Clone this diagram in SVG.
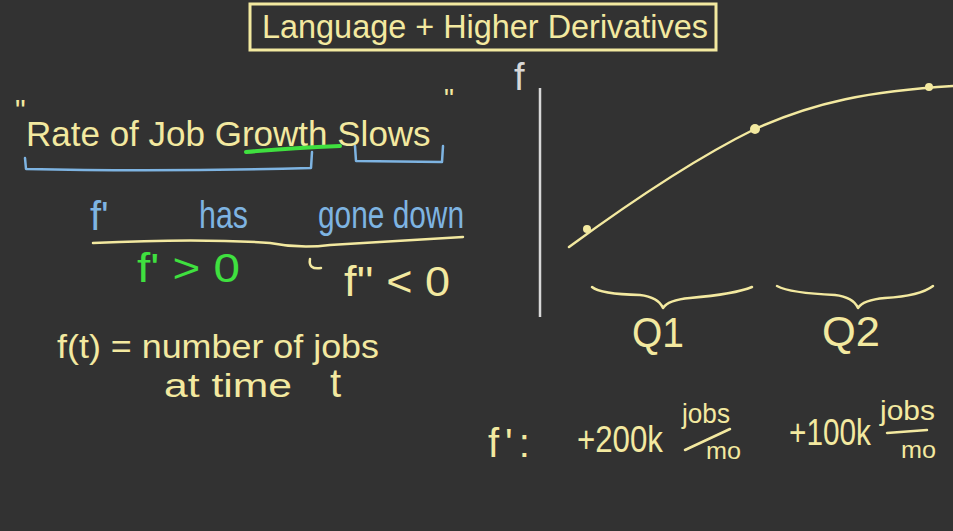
<svg xmlns="http://www.w3.org/2000/svg" width="953" height="531" viewBox="0 0 953 531">
<style>
.y{fill:#f3e9a0;font-family:"Liberation Sans",Arial,sans-serif}
.b{fill:#7eb4e2;font-family:"Liberation Sans",Arial,sans-serif}
.g{fill:#3fe03f;font-family:"Liberation Sans",Arial,sans-serif}
.w{fill:#d8d8d8;font-family:"Liberation Sans",Arial,sans-serif}
.ys{fill:none;stroke:#f3e9a0;stroke-width:2.5;stroke-linecap:round;stroke-linejoin:round}
.bs{fill:none;stroke:#7eb4e2;stroke-width:2.5;stroke-linecap:round;stroke-linejoin:round}
</style>
<rect width="953" height="531" fill="#323232"/>
<g id="title">
<rect x="250" y="4" width="466" height="46" fill="none" stroke="#f3e9a0" stroke-width="3"/>
<text class="y" x="262" y="38" font-size="34" textLength="446" lengthAdjust="spacingAndGlyphs">Language + Higher Derivatives</text>
</g>
<g id="phrase">
<text class="y" x="15" y="120" font-size="30">"</text>
<text class="y" x="26" y="146" font-size="35">Rate of Job Growth Slows</text>
<text class="y" x="444" y="108" font-size="28">"</text>
<path d="M246,152 Q290,148 340,146" fill="none" stroke="#3fe03f" stroke-width="4" stroke-linecap="round"/>
<path class="bs" d="M25,158 L26,169 Q160,172 311,168 L312,152"/>
<path class="bs" d="M355,146 L356,161 L442,162 L443,146"/>
</g>
<g id="meaning">
<text class="b" x="90" y="230" font-size="40">f'</text>
<text class="b" x="199" y="228" font-size="38" textLength="49" lengthAdjust="spacingAndGlyphs">has</text>
<text class="b" x="318" y="228" font-size="38" textLength="146" lengthAdjust="spacingAndGlyphs">gone down</text>
<path class="ys" d="M93,243 Q200,238 270,243 Q300,249 330,245 L463,237"/>
<text class="g" x="137" y="282" font-size="40" textLength="103" lengthAdjust="spacingAndGlyphs">f' &gt; 0</text>
<path class="ys" d="M310,259 Q308,270 321,268"/>
<text class="y" x="344" y="296" font-size="42" textLength="106" lengthAdjust="spacingAndGlyphs">f'' &lt; 0</text>
</g>
<g id="definition">
<text class="y" x="57" y="358" font-size="34" textLength="322" lengthAdjust="spacingAndGlyphs">f(t) = number of jobs</text>
<text class="y" x="164" y="397" font-size="34" textLength="128" lengthAdjust="spacingAndGlyphs">at time</text>
<text class="y" x="330" y="397" font-size="40">t</text>
</g>
<g id="graph">
<line x1="540" y1="88" x2="540" y2="317" stroke="#d8d8d8" stroke-width="2.5"/>
<text class="w" x="514" y="90" font-size="38">f</text>
<path class="ys" d="M569,247 C640,195 700,156 755,129 C815,102 870,91 953,86"/>
<circle cx="587" cy="229" r="4" fill="#f3e9a0"/>
<circle cx="755" cy="129" r="5" fill="#f3e9a0"/>
<circle cx="929" cy="87" r="4" fill="#f3e9a0"/>
<path class="ys" d="M592,287 Q600,294 640,295 Q658,297 663,308 Q668,300 690,298 Q735,294 752,287"/>
<path class="ys" d="M777,286 Q790,293 835,295 Q853,297 858,308 Q863,300 885,298 Q920,296 933,286"/>
<text class="y" x="632" y="347" font-size="42" textLength="52" lengthAdjust="spacingAndGlyphs">Q1</text>
<text class="y" x="822" y="346" font-size="42" textLength="58" lengthAdjust="spacingAndGlyphs">Q2</text>
</g>
<g id="rates">
<text class="y" x="488" y="457" font-size="40" letter-spacing="6">f':</text>
<text class="y" x="577" y="452" font-size="36" textLength="86" lengthAdjust="spacingAndGlyphs">+200k</text>
<text class="y" x="682" y="423" font-size="28" textLength="48" lengthAdjust="spacingAndGlyphs">jobs</text>
<line class="ys" x1="685" y1="450" x2="730" y2="429"/>
<text class="y" x="706" y="459" font-size="24" textLength="35" lengthAdjust="spacingAndGlyphs">mo</text>
<text class="y" x="789" y="445" font-size="36" textLength="82" lengthAdjust="spacingAndGlyphs">+100k</text>
<text class="y" x="880" y="420" font-size="28" textLength="55" lengthAdjust="spacingAndGlyphs">jobs</text>
<line class="ys" x1="887" y1="433" x2="927" y2="430"/>
<text class="y" x="901" y="458" font-size="24" textLength="35" lengthAdjust="spacingAndGlyphs">mo</text>
</g>
</svg>
